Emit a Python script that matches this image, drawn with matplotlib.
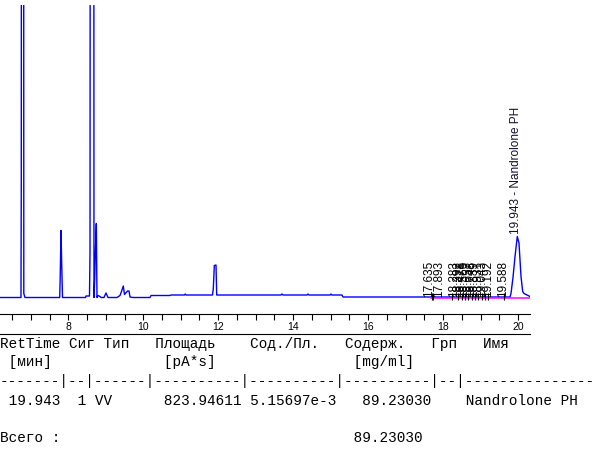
"""
Chromatogram with integration report (ChemStation style)
"""

import matplotlib.pyplot as plt
from matplotlib.lines import Line2D

# signal trace, retention time [min] vs detector response [pA]
trace_t = [6.18, 6.737, 6.745, 6.764, 6.799, 6.812, 6.844,
           7.770, 7.783, 7.805, 7.823, 7.845,
           8.459, 8.472, 8.565, 8.579, 8.605, 8.667, 8.685, 8.704, 8.720, 8.747, 8.765,
           8.792, 8.845, 8.872, 8.952, 9.005, 9.059,
           9.299, 9.379, 9.419, 9.467, 9.499, 9.579, 9.619, 9.646, 9.726,
           10.18, 10.206, 10.713, 10.74, 11.10, 11.12, 11.14,
           11.848, 11.869, 11.896, 11.941, 11.96,
           13.675, 13.70, 13.73, 14.37, 14.396, 14.42, 14.99, 15.01, 15.03,
           15.303, 15.33, 17.678,
           19.786, 19.813, 19.866, 19.92, 19.981, 20.026, 20.08, 20.125, 20.16, 20.266, 20.32]
trace_h = [0, 0, 112, 2000, 2000, 4, 0,
           0, 19, 67, 34, 0,
           0, 1.5, 1.5, 44, 2000, 2000, 0, 18, 43, 74, 0,
           2, 1, 0, 0, 4.5, 0,
           0, 2, 6, 11.5, 3, 6.5, 6.5, 0.5, 0,
           0, 2, 2, 2.5, 2.5, 3.5, 2.5,
           2.5, 9, 32, 32.5, 2.5,
           2.5, 3.5, 2.5, 2.5, 3.5, 2.5, 2.5, 3.5, 2.5,
           2.5, 0.5, 0.5,
           0.5, 4, 20, 41, 61, 54.5, 21, 6, 4, 2, 1]

# integration events
event_t = [17.697, 17.739, 18.23, 18.39, 18.497, 18.585, 18.673, 18.764,
           18.852, 18.94, 19.031, 19.119, 19.207, 19.634]
peak_labels = ['17.635', '17.893', '18.283', '18.392', '18.478', '18.566', '18.657',
               '18.748', '18.839', '18.931', '19.043', '19.192', '19.588']
main_peak = 19.943
main_name = 'Nandrolone PH'
main_height = 61
baseline_span = [17.678, 20.32]

# report table
header = 'RetTime Сиг Тип   Площадь    Сод./Пл.   Содерж.   Грп   Имя'
units = ' [мин]             [pA*s]                [mg/ml]'
rule = '-------|--|------|----------|----------|----------|--|---------------'
row = ' 19.943  1 VV      823.94611 5.15697e-3   89.23030    Nandrolone PH'
total = 'Всего :                                  89.23030'

W, H = 603, 450
fig = plt.figure(figsize=(W / 100, H / 100), dpi=100)
ax = fig.add_axes([0, (H - 314) / H, 530 / W, 309 / H])

ax.plot(trace_t, trace_h, color='#0000FF', lw=1.0)
ax.plot(baseline_span, [0, 0], color='#FF00FF', lw=1.1, zorder=3)
ax.vlines(event_t, -2.5, 5, color='black', lw=0.8, zorder=4)

for lab in peak_labels:
    ax.text(float(lab), 0.5, lab, rotation=90, ha='center', va='bottom',
            fontsize=8.5, family='Liberation Sans', color='black')
ax.text(main_peak, main_height + 3, f'{main_peak:.3f} - {main_name}', rotation=90,
        ha='center', va='bottom', fontsize=8.5, family='Liberation Sans', color='#101030')

ax.set_xlim(6.177, 20.32)
ax.set_ylim(-16.5, 292.5)
ax.set_xticks([8, 10, 12, 14, 16, 18, 20])
ax.set_xticks([x / 2 for x in range(13, 41)], minor=True)
ax.tick_params(axis='x', which='both', length=4, width=0.8, direction='out',
               labelsize=7.5, pad=2)
for lbl in ax.get_xticklabels():
    lbl.set_family('Liberation Sans')
ax.set_yticks([])
for s in ['top', 'right', 'left']:
    ax.spines[s].set_visible(False)
ax.spines['bottom'].set_linewidth(0.8)
ax.patch.set_visible(False)

# frame line under tick labels
fig.add_artist(Line2D([0, 530 / W], [(H - 333.5) / H] * 2, color='black', lw=0.8))

lines = [(header, 344), (units, 362), (rule, 381), (row, 401), (total, 438)]
for txt, y in lines:
    fig.text(0, (H - y) / H, txt, ha='left', va='center', fontsize=10.35,
             family='Liberation Mono', color='black')

fig.savefig('out.png', dpi=100)
